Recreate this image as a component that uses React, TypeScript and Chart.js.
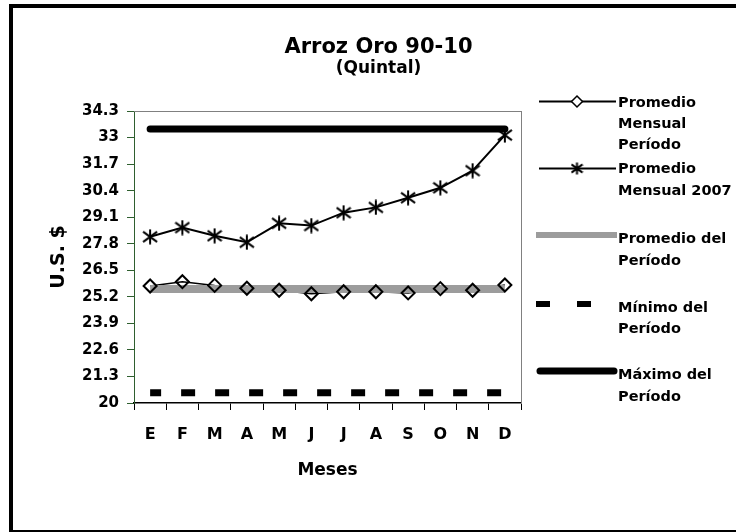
import React, { useEffect, useRef } from 'react';
import { Chart, registerables } from 'chart.js';

Chart.register(...registerables);

// ---------- data ----------
const months = ['E', 'F', 'M', 'A', 'M', 'J', 'J', 'A', 'S', 'O', 'N', 'D'];
const promedioMensualPeriodo = [25.73, 25.94, 25.76, 25.62, 25.52, 25.35, 25.45, 25.45, 25.39, 25.6, 25.52, 25.78];
const promedioMensual2007 = [28.14, 28.59, 28.19, 27.87, 28.8, 28.69, 29.32, 29.58, 30.05, 30.54, 31.38, 33.12];
const promedioDelPeriodo = [25.58, 25.58, 25.58, 25.58, 25.58, 25.58, 25.58, 25.58, 25.58, 25.58, 25.58, 25.58];
const minimoDelPeriodo = [20.5, 20.5, 20.5, 20.5, 20.5, 20.5, 20.5, 20.5, 20.5, 20.5, 20.5, 20.5];
const maximoDelPeriodo = [33.42, 33.42, 33.42, 33.42, 33.42, 33.42, 33.42, 33.42, 33.42, 33.42, 33.42, 33.42];
const yTickValues = [20, 21.3, 22.6, 23.9, 25.2, 26.5, 27.8, 29.1, 30.4, 31.7, 33, 34.3];
const yTickLabels = ['20', '21.3', '22.6', '23.9', '25.2', '26.5', '27.8', '29.1', '30.4', '31.7', '33', '34.3'];
const legendLabels = [
  ['Promedio', 'Mensual', 'Período'],
  ['Promedio', 'Mensual 2007'],
  ['Promedio del', 'Período'],
  ['Mínimo del', 'Período'],
  ['Máximo del', 'Período'],
];
const titleText = 'Arroz Oro 90-10';
const subtitleText = '(Quintal)';
const xTitle = 'Meses';
const yTitle = 'U.S. $';

const FONT = "'DejaVu Sans', 'Liberation Sans', Arial, sans-serif";
const BAND = '#9c9c9c';

function makeAsterisk(size: number, lw: number) {
  const c = document.createElement('canvas');
  c.width = size;
  c.height = size;
  const g = c.getContext('2d')!;
  g.strokeStyle = '#000';
  g.lineWidth = lw;
  const m = size / 2;
  g.beginPath();
  g.moveTo(m, 0.5);
  g.lineTo(m, size - 0.5);
  g.moveTo(1, size * 0.18);
  g.lineTo(size - 1, size * 0.82);
  g.moveTo(size - 1, size * 0.18);
  g.lineTo(1, size * 0.82);
  g.stroke();
  return c;
}

function diamond(ctx: CanvasRenderingContext2D, x: number, y: number, r: number) {
  ctx.beginPath();
  ctx.moveTo(x, y - r);
  ctx.lineTo(x + r, y);
  ctx.lineTo(x, y + r);
  ctx.lineTo(x - r, y);
  ctx.closePath();
}

export default function App() {
  const ref = useRef<HTMLCanvasElement | null>(null);

  useEffect(() => {
    const canvas = ref.current;
    if (!canvas) return;
    const star = makeAsterisk(16, 2);
    const starSmall = makeAsterisk(13, 2);

    const frameLines = {
      id: 'frameLines',
      beforeDatasetsDraw(chart: any) {
        const { ctx, chartArea } = chart;
        ctx.save();
        ctx.strokeStyle = '#808080';
        ctx.lineWidth = 1;
        ctx.beginPath();
        ctx.moveTo(chartArea.left, chartArea.top + 0.5);
        ctx.lineTo(chartArea.right, chartArea.top + 0.5);
        ctx.stroke();
        ctx.restore();
      },
    };

    const customLegend = {
      id: 'customLegend',
      afterDraw(chart: any) {
        const ctx: CanvasRenderingContext2D = chart.ctx;
        ctx.save();
        const textX = 605;
        const fs = 14.5;
        ctx.font = `bold ${fs}px ${FONT}`;
        ctx.fillStyle = '#000';
        ctx.textAlign = 'left';
        ctx.textBaseline = 'alphabetic';
        const capOff = 0.365 * fs;
        const textRows = [
          [93.5, 114.5, 135.5],
          [160, 182],
          [230, 251.5],
          [299, 320],
          [366, 388],
        ];
        legendLabels.forEach((lines, i) => {
          lines.forEach((t, j) => ctx.fillText(t, textX, textRows[i][j] + capOff));
        });

        // 1: line with diamond
        ctx.strokeStyle = '#000';
        ctx.lineWidth = 2;
        ctx.beginPath();
        ctx.moveTo(526, 93.5);
        ctx.lineTo(603, 93.5);
        ctx.stroke();
        diamond(ctx, 564, 93.5, 5.5);
        ctx.fillStyle = '#fff';
        ctx.fill();
        ctx.lineWidth = 1.5;
        ctx.stroke();

        // 2: line with asterisk
        ctx.lineWidth = 2;
        ctx.beginPath();
        ctx.moveTo(526, 160.5);
        ctx.lineTo(603, 160.5);
        ctx.stroke();
        ctx.drawImage(starSmall, 564 - 6.5, 160.5 - 6.5);

        // 3: grey band
        ctx.strokeStyle = BAND;
        ctx.lineWidth = 6;
        ctx.beginPath();
        ctx.moveTo(523, 227);
        ctx.lineTo(604, 227);
        ctx.stroke();

        // 4: dashes
        ctx.fillStyle = '#000';
        ctx.fillRect(523, 293, 14, 6);
        ctx.fillRect(564, 293, 14, 6);

        // 5: thick line
        ctx.strokeStyle = '#000';
        ctx.lineWidth = 7;
        ctx.lineCap = 'round';
        ctx.beginPath();
        ctx.moveTo(527, 363);
        ctx.lineTo(601, 363);
        ctx.stroke();
        ctx.restore();
      },
    };

    const chart = new Chart(canvas, {
      type: 'line',
      data: {
        labels: months,
        datasets: [
          {
            label: 'Promedio Mensual Período (marcadores)',
            data: promedioMensualPeriodo,
            showLine: false,
            pointStyle: 'rectRot',
            pointRadius: 6.5,
            pointBorderWidth: 2,
            pointBorderColor: '#000',
            pointBackgroundColor: 'rgba(0,0,0,0)',
            borderColor: '#000',
          },
          {
            label: 'Promedio Mensual 2007',
            data: promedioMensual2007,
            borderColor: '#000',
            borderWidth: 2,
            pointStyle: star as any,
            pointRadius: 8,
          },
          {
            label: 'Promedio del Período',
            data: promedioDelPeriodo,
            borderColor: BAND,
            borderWidth: 8,
            pointRadius: 0,
          },
          {
            label: 'Promedio Mensual Período',
            data: promedioMensualPeriodo,
            borderColor: '#000',
            borderWidth: 1.5,
            pointRadius: 0,
          },
          {
            label: 'Máximo del Período',
            data: maximoDelPeriodo,
            borderColor: '#000',
            borderWidth: 7,
            borderCapStyle: 'round',
            pointRadius: 0,
          },
          {
            label: 'Mínimo del Período',
            data: minimoDelPeriodo,
            borderColor: '#000',
            borderWidth: 7,
            borderDash: [14, 20],
            borderDashOffset: 3,
            borderCapStyle: 'butt',
            pointRadius: 0,
          },
        ],
      },
      options: {
        responsive: false,
        animation: false,
        devicePixelRatio: 1,
        events: [],
        layout: { padding: { left: 8, right: 0, top: 0, bottom: 0 } },
        font: { family: FONT, weight: 'bold' } as any,
        elements: { line: { tension: 0 } },
        plugins: {
          legend: { display: false },
          tooltip: { enabled: false },
          title: {
            display: true,
            text: titleText,
            color: '#000',
            font: { family: FONT, size: 21, weight: 'bold', lineHeight: 1 },
            padding: { top: 29.4, bottom: 0 },
          },
          subtitle: {
            display: true,
            text: subtitleText,
            color: '#000',
            font: { family: FONT, size: 17, weight: 'bold', lineHeight: 1 },
            padding: { top: 1.2, bottom: 34.4 },
          },
        },
        scales: {
          x: {
            type: 'category',
            offset: true,
            grid: {
              display: true,
              offset: true,
              drawOnChartArea: false,
              drawTicks: true,
              tickLength: 7,
              color: '#000',
              tickColor: '#000',
            },
            border: { display: true, color: '#000', width: 1.5 },
            ticks: {
              color: '#000',
              font: { family: FONT, size: 16, weight: 'bold' },
              padding: 15,
              autoSkip: false,
              maxRotation: 0,
            },
            title: {
              display: true,
              text: xTitle,
              color: '#000',
              font: { family: FONT, size: 17, weight: 'bold' },
              padding: { top: 0, bottom: 49.7 },
            },
            afterFit(s: any) {
              s.height = 127;
            },
          },
          y: {
            type: 'linear',
            position: 'left',
            min: 20,
            max: 34.3,
            afterBuildTicks(s: any) {
              s.ticks = yTickValues.map((v) => ({ value: v }));
            },
            grid: {
              display: true,
              drawOnChartArea: false,
              drawTicks: true,
              tickLength: 7,
              color: '#2f5f2f',
              tickColor: '#2f5f2f',
            },
            border: { display: true, color: '#2f5f2f', width: 1 },
            ticks: {
              color: '#000',
              font: { family: FONT, size: 15, weight: 'bold' },
              padding: 8,
              callback: (_v: any, i: number) => yTickLabels[i],
            },
            title: {
              display: true,
              text: yTitle,
              color: '#000',
              font: { family: FONT, size: 19, weight: 'bold' },
              padding: { top: 26.9, bottom: 0 },
            },
            afterFit(s: any) {
              s.width = 113;
            },
          },
          y2: {
            type: 'linear',
            position: 'right',
            min: 0,
            max: 1,
            grid: { display: true, drawOnChartArea: false, drawTicks: false },
            border: { display: true, color: '#808080', width: 1 },
            ticks: { display: false },
            afterFit(s: any) {
              s.width = 215;
            },
          },
        },
      } as any,
      plugins: [frameLines, customLegend],
    });

    return () => chart.destroy();
  }, []);

  return (
    <div
      style={{
        position: 'absolute',
        left: 9,
        top: 4,
        width: 727,
        height: 528,
        boxSizing: 'border-box',
        borderLeft: '4px solid #000',
        borderTop: '4px solid #000',
        borderBottom: '2px solid #000',
        background: '#fff',
      }}
    >
      <canvas ref={ref} width={723} height={522} style={{ display: 'block', width: 723, height: 522 }} />
    </div>
  );
}
